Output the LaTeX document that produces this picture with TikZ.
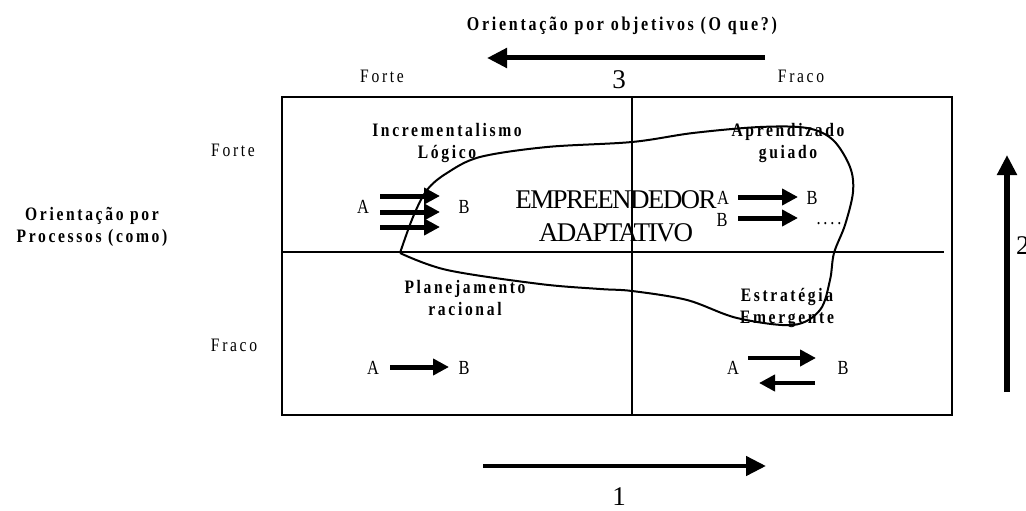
\documentclass[tikz,border=0pt]{standalone}
\usepackage{fontspec}
\setmainfont{Liberation Serif}
\newfontfamily\lblfont[FakeStretch=0.82,LetterSpace=14]{Liberation Serif}
\newfontfamily\bigfont[LetterSpace=-6]{Liberation Serif}
\usetikzlibrary{arrows.meta}
\tikzset{
  lbl/.style={font=\lblfont\fontsize{19}{22}\selectfont, inner sep=0pt, align=center},
  blbl/.style={font=\lblfont\bfseries\fontsize{19}{22}\selectfont, inner sep=0pt, align=center},
  ab/.style={font=\lblfont\fontsize{20}{22}\selectfont, inner sep=0pt},
  num/.style={font=\fontsize{27}{27}\selectfont, inner sep=0pt},
  emp/.style={font=\bigfont\fontsize{27}{33}\selectfont, inner sep=0pt, align=center},
  frame/.style={line width=2pt},
  bigarrow/.style={line width=5pt, -{Triangle[length=20pt,width=19pt]}},
  smallarrow/.style={line width=5pt, -{Triangle[length=16pt,width=16pt]}},
  blob/.style={line width=2pt, line join=round},
}
\begin{document}
\begin{tikzpicture}[x=1pt,y=-1pt]
\clip (0,0) rectangle (1026,511);
\fill[white] (0,0) rectangle (1026,511);

% frame
\draw[frame] (282,97) rectangle (952,415);
\coordinate (vt) at (632,97);
\coordinate (vb) at (632,415);
\coordinate (hl) at (282,252);
\coordinate (hr) at (944,252);
\draw[frame] (vt) -- (vb);
\draw[frame] (hl) -- (hr);

% top axis
\node[blbl, font=\lblfont\bfseries\fontsize{19.5}{22}\selectfont] (topt) at (622,26) {Orientação por objetivos (O que?)};
\coordinate (t3s) at (765,58);
\coordinate (t3e) at (487,58);
\draw[bigarrow] (t3s) -- (t3e);
\node[num] (n3) at (619,80) {3};
\node[lbl] (tf) at (382,76) {Forte};
\node[lbl] (tfr) at (801,76) {Fraco};

% left axis
\node[lbl] (lf) at (233,150) {Forte};
\node[lbl] (lfr) at (234,345) {Fraco};
\node[blbl] (lt) at (92,227) {Orientação por\\Processos (como)};

% right axis
\coordinate (r2s) at (1007,392);
\coordinate (r2e) at (1007,155);
\draw[bigarrow, line width=5.5pt] (r2s) -- (r2e);
\node[num, anchor=west] (n2) at (1016,246) {2};

% bottom axis
\coordinate (b1s) at (483,466);
\coordinate (b1e) at (766,466);
\draw[bigarrow, line width=4.5pt] (b1s) -- (b1e);
\node[num] (n1) at (619,497) {1};

% quadrant titles
\node[blbl] (q1) at (447,143) {Incrementalismo\\Lógico};
\node[blbl] (q2) at (788,143) {Aprendizado\\guiado};
\node[blbl] (q3) at (465,298) {Planejamento\\racional};
\node[blbl] (q4) at (787,308) {Estratégia\\Emergente};

% Q1 arrows
\node[ab] (q1a) at (363,207) {A};
\node[ab] (q1b) at (464,207) {B};
\foreach \i/\y in {1/196,2/212,3/227}{
  \coordinate (q1s\i) at (380,\y);
  \coordinate (q1e\i) at (440,\y);
  \draw[smallarrow] (q1s\i) -- (q1e\i);
}

% Q2 arrows
\node[ab] (q2a) at (723,198) {A};
\node[ab] (q2b) at (812,198) {B};
\node[ab] (q2c) at (722,220) {B};
\node[ab] (q2d) at (829,224) {....};
\coordinate (q2s1) at (738,197);
\coordinate (q2e1) at (798,197);
\coordinate (q2s2) at (738,218);
\coordinate (q2e2) at (798,218);
\draw[smallarrow] (q2s1) -- (q2e1);
\draw[smallarrow] (q2s2) -- (q2e2);

% Q3 arrow
\node[ab] (q3a) at (373,368) {A};
\node[ab] (q3b) at (464,368) {B};
\coordinate (q3s) at (390,367);
\coordinate (q3e) at (449,367);
\draw[smallarrow] (q3s) -- (q3e);

% Q4 arrows
\node[ab] (q4a) at (733,368) {A};
\node[ab] (q4b) at (843,368) {B};
\coordinate (q4s1) at (748,358);
\coordinate (q4e1) at (816,358);
\coordinate (q4s2) at (815,383);
\coordinate (q4e2) at (759,383);
\draw[smallarrow, line width=4.5pt] (q4s1) -- (q4e1);
\draw[smallarrow, line width=4.5pt] (q4s2) -- (q4e2);

% blob
\draw[blob] plot[smooth, tension=0.55] coordinates {
 (400,253) (413,217) (427,190) (447,173) (480,157) (547,147) (632,142)
 (693,133) (760,127) (807,128) (833,140) (850,167) (853,192) (845,225)
 (834,253) (830,280) (820,310) (793,325) (737,318) (687,300) (632,291)
 (600,289) (540,284) (447,270) (400,253)};

% center label
\node[emp] (emp) at (616,216) {EMPREENDEDOR\\ADAPTATIVO};
\end{tikzpicture}
\end{document}
